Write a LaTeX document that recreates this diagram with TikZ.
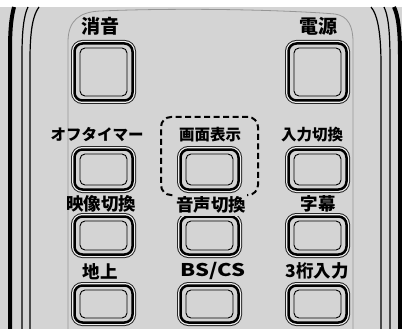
\documentclass[tikz,border=0pt]{standalone}
\usepackage{fontspec}
\newfontfamily\jpfont{Noto Sans CJK JP}
\usetikzlibrary{positioning}
\definecolor{panel}{RGB}{212,212,212}
\definecolor{rim}{RGB}{150,150,150}
\definecolor{shine}{RGB}{238,238,238}

\begin{document}
\begin{tikzpicture}[x=1pt, y=-1pt,
    btn/.style={draw, line width=2.5pt, rounded corners=8pt, fill=panel,
      minimum width=58pt, minimum height=#1, inner sep=0pt,
      preaction={draw=black!85, line width=7pt},
      preaction={draw=shine, line width=5pt}},
    face/.style={draw, line width=0.9pt, rounded corners=5pt,
      minimum width=47pt, minimum height=#1, inner sep=0pt},
    lbl/.style={font=\jpfont\bfseries\fontsize{#1}{#1}\selectfont, inner sep=0pt},
    body/.style={line width=1.2pt}
  ]
    \useasboundingbox (0,0) rectangle (402,329);
    \clip (0,0) rectangle (402,329);
    \fill[white] (0,0) rectangle (402,7);
    \fill[panel] (0,7) rectangle (402,329);

    % remote body edges
    \draw[line width=4pt] (10,330) -- (10,50) .. controls (10,25) and (12,15) .. (14,7);
    \draw[body] (22,330) -- (22,55) .. controls (22,30) and (24,15) .. (28,7);
    \draw[body] (30,330) -- (30,60) .. controls (30,30) and (33,15) .. (39,7);
    \draw[line width=4pt] (400,330) -- (400,55) .. controls (400,30) and (398,15) .. (394,7);
    \draw[body] (390,330) -- (390,60) .. controls (390,30) and (388,15) .. (384,7);
    \draw[body] (381,330) -- (381,65) .. controls (381,35) and (378,15) .. (371,7);

    % key panel
    \draw[rim, line width=0.8pt] (68,330) -- (68,42) .. controls (68,20) and (80,12) .. (100,11)
      .. controls (200,7) and (300,11) .. (335,14) .. controls (348,16) and (353,26) .. (353,42) -- (353,330);

    % row 1
    \node[btn=57pt] (mute) at (103.5,72) {};
    \node[face=48pt] (mute-in) at (mute) {};
    \node[btn=57pt] (power) at (317.5,72) {};
    \node[face=48pt] (power-in) at (power) {};
    \node[lbl=19] (mute-l) at (100,26) {消音};
    \node[lbl=19] (power-l) at (318,26) {電源};

    % row 2
    \node[btn=40pt] (timer) at (103.5,169.5) {};
    \node[face=31pt] (timer-in) at (timer) {};
    \node[btn=40pt] (disp) at (209.5,169.5) {};
    \node[face=31pt] (disp-in) at (disp) {};
    \node[btn=40pt] (input) at (317.5,169.5) {};
    \node[face=31pt] (input-in) at (input) {};
    \node[lbl=15.5] (timer-l) at (97,135) {オフタイマー};
    \node[lbl=15.5] (disp-l) at (210,135) {画面表示};
    \node[lbl=15.5] (input-l) at (312,135) {入力切換};

    % highlight
    \node[draw, line width=2pt, dash pattern=on 6pt off 3.5pt, rounded corners=10pt,
      minimum width=97pt, minimum height=78pt] (hl) at (209.5,156) {};

    % row 3
    \node[btn=38pt] (video) at (103.5,235.5) {};
    \node[face=29pt] (video-in) at (video) {};
    \node[btn=38pt] (audio) at (209.5,235.5) {};
    \node[face=29pt] (audio-in) at (audio) {};
    \node[btn=38pt] (subt) at (317.5,235.5) {};
    \node[face=29pt] (subt-in) at (subt) {};
    \node[lbl=17.5] (video-l) at (101,204) {映像切換};
    \node[lbl=17.5, fill=panel, inner xsep=1pt, inner ysep=2.5pt] (audio-l) at (211,205) {音声切換};
    \node[lbl=17.5] (subt-l) at (318,204) {字幕};

    % row 4
    \node[btn=37pt] (terr) at (103.5,304) {};
    \node[face=28pt] (terr-in) at (terr) {};
    \node[btn=37pt] (bscs) at (209.5,304) {};
    \node[face=28pt] (bscs-in) at (bscs) {};
    \node[btn=37pt] (digit) at (317.5,304) {};
    \node[face=28pt] (digit-in) at (digit) {};
    \node[lbl=17.5] (terr-l) at (100,272) {地上};
    \node[lbl=17.5] (bscs-l) at (213,271) {\scalebox{1.25}[1]{BS/CS}};
    \node[lbl=17.5] (digit-l) at (317,271) {3桁入力};
  \end{tikzpicture}
\end{document}
